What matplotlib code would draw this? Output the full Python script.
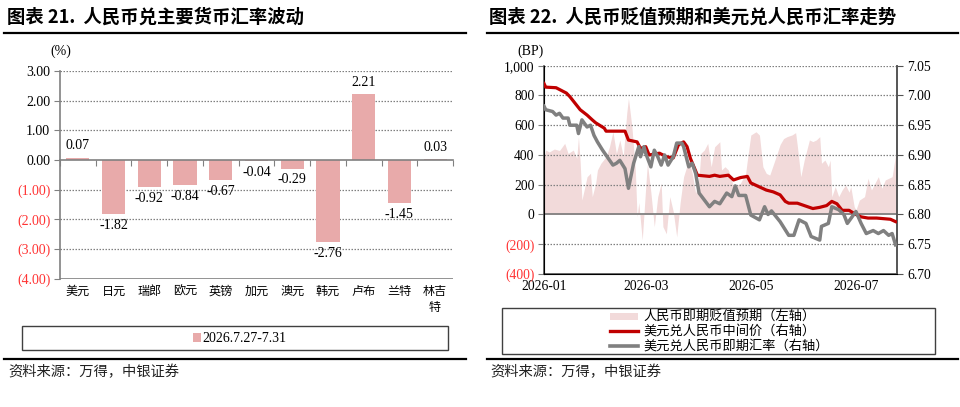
import matplotlib
matplotlib.use("Agg")
import matplotlib.pyplot as plt
import matplotlib.dates as mdates
from matplotlib.lines import Line2D
from matplotlib.patches import Rectangle
import pandas as pd

CJK = ['Noto Sans CJK SC', 'DejaVu Sans']
SERIF = ['Liberation Serif', 'DejaVu Serif']
plt.rcParams['font.family'] = CJK

# ---------------- data: left chart ----------------
currencies = ['美元', '日元', '瑞郎', '欧元', '英镑', '加元', '澳元', '韩元', '卢布', '兰特', '林吉\n特']
changes = [0.07, -1.82, -0.92, -0.84, -0.67, -0.04, -0.29, -2.76, 2.21, -1.45, 0.03]
bar_series_name = '2026.7.27-7.31'
left_yticks = [3, 2, 1, 0, -1, -2, -3, -4]

# ---------------- data: right chart ----------------
exp_dates = ['01-01', '01-02', '01-04', '01-07', '01-10', '01-13', '01-15', '01-18', '01-20', '01-21',
             '01-22', '01-23', '01-26', '01-28', '01-29', '01-31', '02-01', '02-03', '02-06', '02-08',
             '02-10', '02-12', '02-14', '02-16', '02-18', '02-19', '02-21', '02-23', '02-24', '02-25',
             '02-27', '03-01', '03-02', '03-04', '03-06', '03-08', '03-10', '03-11', '03-13', '03-15',
             '03-17', '03-19', '03-21', '03-23', '03-26', '03-28', '03-30', '04-01', '04-02', '04-04',
             '04-06', '04-08', '04-10', '04-13', '04-14', '04-16', '04-18', '04-21', '04-25', '04-28',
             '04-29', '05-01', '05-04', '05-06', '05-08', '05-10', '05-12', '05-15', '05-18', '05-20',
             '05-22', '05-25', '05-27', '05-28', '05-30', '06-01', '06-04', '06-06', '06-08', '06-10',
             '06-11', '06-13', '06-15', '06-16', '06-17', '06-19', '06-21', '06-23', '06-25', '06-27',
             '06-28', '06-30', '07-01', '07-03', '07-06', '07-08', '07-10', '07-12', '07-14', '07-16',
             '07-18', '07-20', '07-22', '07-24', '07-25']
exp_values = [378, 433, 420, 440, 430, 478, 410, 433, 378, 523,
              350, 97, 254, 277, 120, 210, 299, 344, 388, 456,
              556, 411, 501, 389, 680, 781, 590, 299, -15, 80,
              -171, 180, 344, 150, -82, 120, 210, -82, -130, 120,
              20, -150, 80, 254, 366, 276, 142, 254, 411, 433,
              478, 321, 455, 489, 299, 321, 299, 187, 210, 276,
              366, 534, 556, 534, 321, 276, 265, 366, 470, 510,
              523, 535, 550, 460, 254, 366, 501, 490, 501, 523,
              344, 366, 321, 366, 120, 187, 120, 165, 198, 150,
              187, 52, 30, 97, 120, 243, 165, 210, 254, 176,
              232, 243, 254, 400, 366]

mid_dates = ['01-01', '01-02', '01-08', '01-14', '01-16', '01-22', '01-26', '01-29', '01-31', '02-05',
             '02-06', '02-17', '02-19', '02-24', '02-26', '03-01', '03-03', '03-09', '03-13', '03-17',
             '03-20', '03-23', '03-25', '03-27', '03-31', '04-07', '04-10', '04-13', '04-18', '04-21',
             '04-25', '04-29', '05-01', '05-04', '05-10', '05-14', '05-18', '05-21', '05-23', '05-28',
             '05-31', '06-03', '06-06', '06-10', '06-14', '06-17', '06-20', '06-23', '06-27', '07-01',
             '07-04', '07-08', '07-13', '07-17', '07-21', '07-24']
mid_values = [7.020, 7.014, 7.013, 7.004, 6.998, 6.976, 6.967, 6.959, 6.954, 6.945,
              6.940, 6.940, 6.925, 6.922, 6.911, 6.914, 6.900, 6.903, 6.897, 6.895,
              6.917, 6.922, 6.914, 6.894, 6.866, 6.864, 6.866, 6.864, 6.866, 6.858,
              6.862, 6.864, 6.853, 6.849, 6.841, 6.838, 6.833, 6.822, 6.819, 6.819,
              6.816, 6.813, 6.810, 6.812, 6.815, 6.822, 6.818, 6.807, 6.807, 6.800,
              6.796, 6.794, 6.794, 6.793, 6.792, 6.788]

spot_dates = ['01-01', '01-02', '01-06', '01-08', '01-10', '01-12', '01-15', '01-16', '01-20', '01-21',
              '01-23', '01-26', '01-28', '01-30', '02-01', '02-04', '02-10', '02-12', '02-14', '02-17',
              '02-19', '02-22', '02-25', '02-26', '02-28', '03-01', '03-04', '03-06', '03-08', '03-10',
              '03-12', '03-14', '03-17', '03-19', '03-22', '03-23', '03-26', '03-28', '03-30', '04-01',
              '04-07', '04-10', '04-13', '04-17', '04-20', '04-22', '04-24', '04-28', '05-01', '05-06',
              '05-09', '05-11', '05-13', '05-18', '05-23', '05-26', '05-29', '06-02', '06-05', '06-10',
              '06-11', '06-15', '06-17', '06-21', '06-24', '06-26', '07-01', '07-04', '07-07', '07-11',
              '07-14', '07-17', '07-20', '07-22', '07-24']
spot_values = [6.982, 6.976, 6.973, 6.967, 6.970, 6.962, 6.962, 6.950, 6.950, 6.936,
               6.959, 6.947, 6.950, 6.933, 6.922, 6.908, 6.883, 6.886, 6.891, 6.877,
               6.844, 6.886, 6.914, 6.897, 6.914, 6.903, 6.880, 6.908, 6.897, 6.883,
               6.900, 6.883, 6.897, 6.920, 6.920, 6.914, 6.880, 6.886, 6.869, 6.836,
               6.813, 6.822, 6.818, 6.836, 6.830, 6.848, 6.832, 6.832, 6.799, 6.791,
               6.813, 6.800, 6.806, 6.788, 6.765, 6.765, 6.791, 6.785, 6.763, 6.757,
               6.780, 6.785, 6.813, 6.808, 6.800, 6.785, 6.805, 6.785, 6.768, 6.773,
               6.768, 6.773, 6.765, 6.768, 6.749]

left_ticks_bp = [1000, 800, 600, 400, 200, 0, -200, -400]
right_ticks = [7.05, 7.00, 6.95, 6.90, 6.85, 6.80, 6.75, 6.70]
x_tick_labels = ['2026-01', '2026-03', '2026-05', '2026-07']
series_names = ['人民币即期贬值预期（左轴）', '美元兑人民币中间价（右轴）', '美元兑人民币即期汇率（右轴）']

YEAR = '2026-'
exp_x = pd.to_datetime([YEAR + d for d in exp_dates])
mid_x = pd.to_datetime([YEAR + d for d in mid_dates])
spot_x = pd.to_datetime([YEAR + d for d in spot_dates])

# ---------------- styles ----------------
BAR_C = '#E8AAAA'
FILL_C = '#F2DADA'
RED_C = '#C00000'
GRAY_C = '#808080'
NEG_C = '#FF3333'
GRID_C = '#808080'

W, H = 960, 407
fig = plt.figure(figsize=(W / 100, H / 100), dpi=100)
fig.patch.set_facecolor('white')


def fx(x):
    return x / W


def fy(y):
    return 1 - y / H


def hline(x1, x2, y, lw=1.5, color='black'):
    fig.add_artist(Line2D([fx(x1), fx(x2)], [fy(y), fy(y)], transform=fig.transFigure,
                          color=color, lw=lw))


def neg_fmt(v, fmt):
    if v < 0:
        return '(' + fmt.format(-v) + ')'
    return fmt.format(v)


# ---------------- titles, rules, sources ----------------
fig.text(fx(7), fy(17), '图表 21.  人民币兑主要货币汇率波动', fontsize=13.2, fontweight='bold',
         va='center', ha='left', family=CJK)
fig.text(fx(489), fy(17), '图表 22.  人民币贬值预期和美元兑人民币汇率走势', fontsize=13.2, fontweight='bold',
         va='center', ha='left', family=CJK)
hline(4, 466, 33.3, lw=1.6)
hline(487, 958, 33.3, lw=1.6)
hline(4, 466, 359.3, lw=1.6)
hline(487, 958, 359.3, lw=1.6)
fig.text(fx(8), fy(372), '资料来源：万得，中银证券', fontsize=10.3, va='center', ha='left',
         family=CJK, color='#222222', style='italic')
fig.text(fx(490), fy(372), '资料来源：万得，中银证券', fontsize=10.3, va='center', ha='left',
         family=CJK, color='#222222', style='italic')

# ---------------- left chart ----------------
axL = fig.add_axes([fx(60), fy(278.7), (453 - 60) / W, (278.7 - 71) / H])
n = len(currencies)
xs = list(range(n))
axL.bar(xs, changes, width=0.65, color=BAR_C, zorder=3)
axL.set_xlim(-0.5, n - 0.5)
axL.set_ylim(-4, 3)
for v in left_yticks:
    if v == 0:
        continue
    if v == -4:
        axL.axhline(v, color=GRID_C, lw=1.2, zorder=2)
    else:
        axL.axhline(v, color=GRID_C, lw=0.9, ls=(0, (1.2, 1.2)), zorder=1)
axL.spines['top'].set_visible(False)
axL.spines['right'].set_visible(False)
axL.spines['bottom'].set_position(('data', 0))
axL.spines['bottom'].set_color(GRID_C)
axL.spines['bottom'].set_linewidth(1.2)
axL.spines['bottom'].set_zorder(4)
axL.spines['left'].set_color(GRID_C)
axL.spines['left'].set_linewidth(1.2)
axL.set_xticks([i - 0.5 for i in range(n + 1)])
axL.set_xticklabels([])
axL.tick_params(axis='x', length=4, color=GRID_C, direction='out')
axL.set_yticks(left_yticks)
axL.set_yticklabels([neg_fmt(v, '{:.2f}') for v in left_yticks], family=SERIF, fontsize=10)
for lab, v in zip(axL.get_yticklabels(), left_yticks):
    lab.set_color(NEG_C if v < 0 else 'black')
axL.tick_params(axis='y', length=4, color=GRID_C, pad=3)
for i, (lab, v) in enumerate(zip(currencies, changes)):
    axL.text(i, -4.2, lab, ha='center', va='top', fontsize=8.7, family=CJK, linespacing=1.35)
    if v >= 0:
        axL.annotate('{:.2f}'.format(v), (i, v), xytext=(0, 4), textcoords='offset points',
                     ha='center', va='bottom', fontsize=10, family=SERIF)
    else:
        axL.annotate('{:.2f}'.format(v), (i, v), xytext=(0, -3.5), textcoords='offset points',
                     ha='center', va='top', fontsize=10, family=SERIF)
fig.text(fx(61), fy(51.5), '(%)', fontsize=10, family=SERIF, ha='center', va='center')

# left legend
fig.add_artist(Rectangle((fx(22), fy(350)), fx(448) - fx(22), fy(326) - fy(350),
                         transform=fig.transFigure, fill=False, edgecolor='#404040', lw=1.0))
fig.add_artist(Rectangle((fx(193), fy(342)), fx(7.5), fy(333) - fy(342),
                         transform=fig.transFigure, color=BAR_C, lw=0))
fig.text(fx(202), fy(338), bar_series_name, fontsize=10, family=SERIF, ha='left', va='center')

# ---------------- right chart ----------------
axR = fig.add_axes([fx(544), fy(274), (897.3 - 544) / W, (274 - 65.7) / H])
axR.fill_between(exp_x, 0, exp_values, color=FILL_C, lw=0, zorder=1)
axR.set_ylim(-400, 1000)
axR.set_xlim(pd.Timestamp('2026-01-01'), pd.Timestamp('2026-07-25'))
for v in left_ticks_bp:
    if v in (0, -400):
        continue
    axR.axhline(v, color=GRID_C, lw=0.9, ls=(0, (1.2, 1.2)), zorder=2)
axR.axhline(0, color=GRID_C, lw=1.3, zorder=2)
axR.set_yticks(left_ticks_bp)
axR.set_yticklabels([('({:,})'.format(-v) if v < 0 else '{:,}'.format(v)) for v in left_ticks_bp],
                    family=SERIF, fontsize=9.8)
for lab, v in zip(axR.get_yticklabels(), left_ticks_bp):
    lab.set_color(NEG_C if v < 0 else 'black')
axR.tick_params(axis='y', length=4, color=GRID_C, pad=3)
axR.set_xticks(pd.to_datetime([t + '-01' for t in x_tick_labels]))
axR.set_xticklabels(x_tick_labels, family=SERIF, fontsize=9.8)
axR.tick_params(axis='x', length=0, pad=4)
axR.spines['top'].set_visible(False)
for s in ('left', 'bottom', 'right'):
    axR.spines[s].set_color('#555555')
    axR.spines[s].set_linewidth(1.2)

axR2 = axR.twinx()
axR2.plot(mid_x, mid_values, color=RED_C, lw=2.3, zorder=3, solid_joinstyle='round')
axR2.plot(spot_x, spot_values, color=GRAY_C, lw=2.5, zorder=4, solid_joinstyle='round')
axR2.set_ylim(6.70, 7.05)
axR2.set_yticks(right_ticks)
axR2.set_yticklabels(['{:.2f}'.format(v) for v in right_ticks], family=SERIF, fontsize=9.8)
axR2.tick_params(axis='y', length=4, color='#555555', pad=3)
axR2.spines['top'].set_visible(False)
axR2.spines['right'].set_color('#555555')
axR2.spines['right'].set_linewidth(1.2)
axR2.set_xlim(pd.Timestamp('2026-01-01'), pd.Timestamp('2026-07-25'))
fig.text(fx(530), fy(51.5), '(BP)', fontsize=10, family=SERIF, ha='center', va='center')

# right legend
fig.add_artist(Rectangle((fx(501.7), fy(354)), fx(935) - fx(501.7), fy(308.3) - fy(354),
                         transform=fig.transFigure, fill=False, edgecolor='#404040', lw=1.0))
rows = [316.7, 331.0, 345.7]
fig.add_artist(Rectangle((fx(610), fy(rows[0] + 3.5)), fx(28), fy(rows[0] - 3.5) - fy(rows[0] + 3.5),
                         transform=fig.transFigure, color=FILL_C, lw=0))
fig.add_artist(Line2D([fx(610), fx(638)], [fy(rows[1]), fy(rows[1])], transform=fig.transFigure,
                      color=RED_C, lw=2.4))
fig.add_artist(Line2D([fx(610), fx(638)], [fy(rows[2]), fy(rows[2])], transform=fig.transFigure,
                      color=GRAY_C, lw=2.6))
for y, name in zip(rows, series_names):
    fig.text(fx(643), fy(y), name, fontsize=9.5, family=CJK, ha='left', va='center')

fig.savefig('out.png', dpi=100, facecolor='white')
